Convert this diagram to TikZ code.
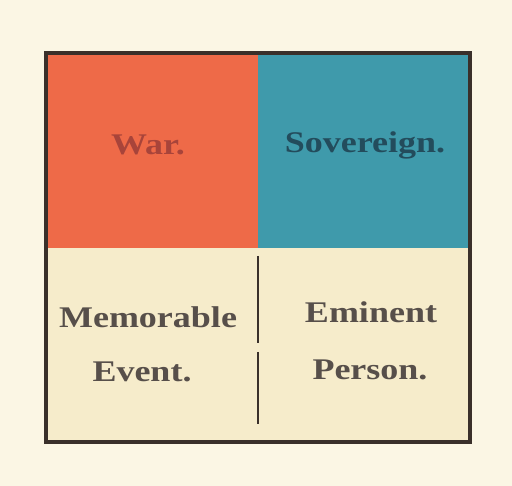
\documentclass[tikz,border=0pt]{standalone}
\usepackage{fontspec}
\setmainfont{Liberation Serif}
\newfontfamily\widefont[FakeStretch=1.2]{Liberation Serif}
\definecolor{paper}{HTML}{FBF6E4}
\definecolor{cell}{HTML}{F6ECCB}
\definecolor{warred}{HTML}{EE6A48}
\definecolor{teal}{HTML}{3F9AAB}
\definecolor{ink}{HTML}{3A302A}
\definecolor{redink}{HTML}{A8443A}
\definecolor{blueink}{HTML}{234C5C}
\begin{document}
\begin{tikzpicture}[x=1pt,y=-1pt,
  lbl/.style={font=\widefont\bfseries\fontsize{30}{30}\selectfont, inner sep=0pt, anchor=center},
  frame/.style={draw=ink, line width=3.2pt}]
\useasboundingbox (0,0) rectangle (512,486);
\fill[paper] (0,0) rectangle (512,486);
\fill[warred] (47,54) rectangle (258,248);
\fill[teal] (258,54) rectangle (469,248);
\fill[cell] (47,248) rectangle (469,442);
\draw[frame] (46,53) rectangle (470,442);
\draw[ink, line width=2.2pt] (258,256) -- (258,343) (258,352) -- (258,424);
\node[lbl, text=redink] (war) at (148,145) {War.};
\node[lbl, text=blueink] (sov) at (365,145) {Sovereign.};
\node[lbl, text=ink!85] (mem) at (148,317) {Memorable};
\node[lbl, text=ink!85] (evt) at (142,372) {Event.};
\node[lbl, text=ink!85] (emi) at (371,312) {Eminent};
\node[lbl, text=ink!85] (per) at (370,370) {Person.};
\end{tikzpicture}
\end{document}
